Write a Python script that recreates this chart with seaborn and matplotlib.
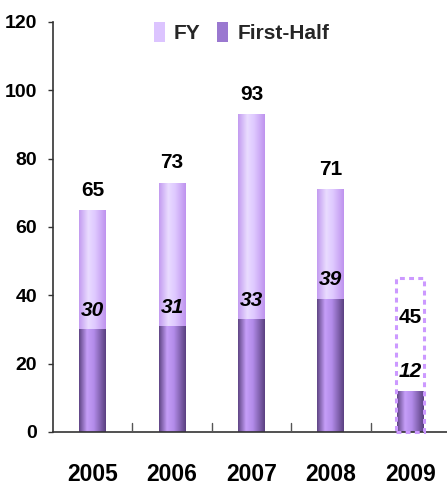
import numpy as np
import pandas as pd
import matplotlib
matplotlib.use("Agg")
import matplotlib.pyplot as plt
from matplotlib.colors import LinearSegmentedColormap
import seaborn as sns

years = ["2005", "2006", "2007", "2008", "2009"]
fy_values = [65, 73, 93, 71, 45]
first_half_values = [30, 31, 33, 39, 12]
forecast_year = "2009"

sns.set_theme(style="white")
plt.rcParams["font.family"] = ["Liberation Sans", "DejaVu Sans"]

fy_cmap = LinearSegmentedColormap.from_list(
    "fy", [(0.0, "#C39AF0"), (0.35, "#E9DCFF"), (0.6, "#DEC8FF"), (1.0, "#BE92EE")])
fh_cmap = LinearSegmentedColormap.from_list(
    "fh", [(0.0, "#5E4484"), (0.3, "#C59EF8"), (0.55, "#B38CEA"), (1.0, "#5A4080")])

df = pd.DataFrame({"year": years, "FY": fy_values, "First-Half": first_half_values})
df_fy = df.copy()
df_fy.loc[df_fy["year"] == forecast_year, "FY"] = 0

fig = plt.figure(figsize=(4.47, 4.86), dpi=100)
ax = fig.add_axes([53 / 447, 1 - 432 / 486, 397 / 447, 410 / 486])

bar_w = 0.34
sns.barplot(data=df_fy, x="year", y="FY", color="#E0CCFF", width=bar_w, ax=ax,
            saturation=1, linewidth=0)
n_fy = len(ax.patches)
sns.barplot(data=df, x="year", y="First-Half", color="#A080D0", width=bar_w, ax=ax,
            saturation=1, linewidth=0)

# cylinder-style horizontal shading on every bar
grad = np.linspace(0, 1, 256).reshape(1, -1)
for i, p in enumerate(ax.patches):
    cmap = fy_cmap if i < n_fy else fh_cmap
    x0, y0, w, h = p.get_x(), p.get_y(), p.get_width(), p.get_height()
    if h <= 0:
        continue
    p.set_facecolor("none")
    im = ax.imshow(grad, cmap=cmap, aspect="auto", extent=(x0, x0 + w, y0, y0 + h),
                   zorder=p.get_zorder() + (0.1 if i >= n_fy else 0))
    im.set_clip_path(p)

# forecast year: dashed outline for the full-year estimate
idx = years.index(forecast_year)
box_w = 0.35
ax.add_patch(plt.Rectangle((idx - box_w / 2, 0), box_w, fy_values[idx], fill=False,
                           edgecolor="#CC99FF", linewidth=2.2, linestyle=(0, (1.6, 1.4)),
                           zorder=5, clip_on=False))

for i, (fy, fh) in enumerate(zip(fy_values, first_half_values)):
    if years[i] == forecast_year:
        ax.text(i, (fy + fh) / 2 + 5, str(fy), ha="center", va="center",
                fontsize=15, fontweight="bold", color="black", zorder=6)
    else:
        ax.text(i, fy + 3, str(fy), ha="center", va="bottom",
                fontsize=15, fontweight="bold", color="black", zorder=6)
    ax.text(i, fh + 2.8, str(fh), ha="center", va="bottom", fontsize=15,
            fontweight="bold", fontstyle="italic", color="black", zorder=6)

ax.set_ylim(0, 120)
ax.set_xlim(-0.5, len(years) - 0.5)
ax.set_yticks(range(0, 121, 20))
ax.set_xticks(range(len(years)))
ax.set_xticklabels(years, fontsize=16.5, fontweight="bold")
ax.tick_params(axis="x", length=0, pad=22, colors="black")
ax.tick_params(axis="y", labelsize=14, length=3.6, width=1, direction="out", pad=8,
               left=True, color="#333333", labelcolor="black")
for lbl in ax.get_yticklabels():
    lbl.set_fontweight("bold")
ax.set_xlabel("")
ax.set_ylabel("")
for b in np.arange(0.5, len(years) - 0.5, 1):
    ax.plot([b, b], [0, 2.5], color="#555555", linewidth=1, zorder=3)
for s in ["top", "right"]:
    ax.spines[s].set_visible(False)
for s in ["left", "bottom"]:
    ax.spines[s].set_color("#333333")
    ax.spines[s].set_linewidth(1.2)

handles = [plt.Rectangle((0, 0), 1, 1, facecolor="#DCC4FF", edgecolor="none"),
           plt.Rectangle((0, 0), 1, 1, facecolor="#9A78D0", edgecolor="none")]
ax.legend(handles, ["FY", "First-Half"], loc="upper center", bbox_to_anchor=(0.475, 1.045),
          ncol=2, frameon=False, handlelength=0.5, handleheight=1.1, handletextpad=0.45,
          columnspacing=0.8, prop={"size": 15, "weight": "bold"})

fig.savefig("out.png", dpi=100)
